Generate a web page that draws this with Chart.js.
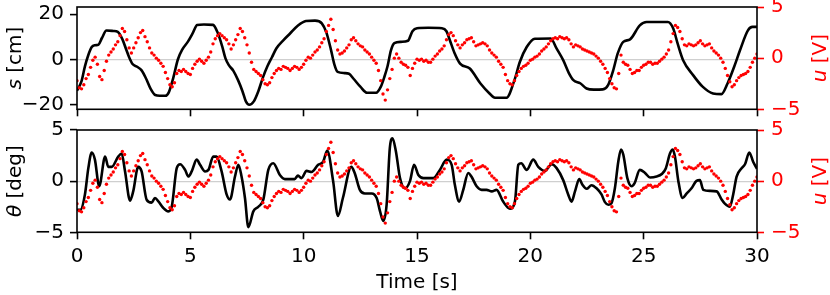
<!DOCTYPE html>
<html>
<head>
<meta charset="utf-8">
<script src="https://cdn.jsdelivr.net/npm/chart.js@4.4.1/dist/chart.umd.min.js"></script>
<style>
  body { margin: 0; background: #fff; }
  #wrap { position: relative; width: 830px; height: 295px; }
  canvas { position: absolute; left: 0; }
</style>
</head>
<body>
<div id="wrap">
  <canvas id="topChart" width="830" height="120" style="top:0px"></canvas>
  <canvas id="bottomChart" width="830" height="175" style="top:120px"></canvas>
</div>
<script>
// control input u [V], sampled every 0.1 s (shared by both panels)
const uVals = [
  -2.2, -2.9, -3.0, -2.6, -2.0, -1.6, -0.9, -0.2, 0.1, -0.6,
  -1.8, -2.1, -1.2, -0.3, 0.3, 0.6, 0.9, 1.3, 1.6, 2.2,
  2.9, 2.6, 1.8, 1.0, 0.5, 1.0, 1.5, 2.0, 2.5, 2.7,
  2.1, 1.6, 1.0, 0.5, 0.3, 0.0, -0.2, -0.5, -0.8, -1.4,
  -2.0, -2.6, -2.8, -2.4, -1.5, -1.2, -1.3, -1.1, -1.3, -1.5,
  -1.6, -1.0, -0.6, -0.3, -0.1, -0.3, -0.5, -0.2, 0.1, 0.6,
  1.4, 1.9, 2.2, 2.4, 2.2, 2.0, 1.8, 1.4, 0.9, 1.3,
  1.8, 2.3, 2.9, 2.6, 2.0, 1.3, 0.5, -0.4, -1.1, -1.3,
  -1.5, -1.7, -2.1, -2.5, -2.6, -2.4, -1.9, -1.5, -1.2, -1.0,
  -1.1, -0.8, -0.9, -1.0, -1.2, -1.0, -0.8, -0.9, -1.1, -0.9,
  -0.6, -0.2, 0.1, 0.0, 0.3, 0.6, 0.8, 1.1, 1.5, 1.9,
  2.6, 3.2, 3.8, 2.8, 1.7, 0.8, 0.4, 0.5, 0.7, 1.0,
  1.3, 1.8, 2.0, 1.7, 1.4, 1.2, 1.1, 0.8, 0.6, 0.4,
  0.1, -0.2, -0.5, -1.2, -2.2, -3.5, -4.1, -3.1, -2.0, -1.1,
  0.0, 0.4, 0.0, -0.4, -0.6, -0.7, -0.9, -1.7, -1.0, -0.5,
  -0.1, -0.2, -0.1, -0.3, -0.2, -0.4, -0.4, -0.1, 0.2, 0.4,
  0.7, 0.9, 1.2, 1.8, 2.3, 2.5, 2.2, 1.7, 1.3, 1.0,
  1.3, 1.5, 1.8, 1.9, 2.0, 1.6, 1.2, 1.3, 1.4, 1.5,
  1.4, 1.2, 0.8, 0.5, 0.3, 0.1, -0.3, -0.6, -0.9, -1.6,
  -2.2, -2.5, -2.6, -2.2, -1.7, -1.3, -1.0, -0.8, -0.7, -0.5,
  -0.2, -0.1, 0.1, 0.2, 0.4, 0.7, 0.9, 1.1, 1.4, 1.7,
  1.9, 2.0, 1.9, 2.1, 2.0, 1.9, 2.0, 1.8, 1.4, 1.1,
  1.3, 1.2, 1.1, 0.9, 0.8, 0.7, 0.6, 0.5, 0.4, 0.2,
  0.0, -0.3, -0.6, -1.0, -1.4, -2.0, -2.5, -2.9, -3.0, -1.5,
  0.3, -0.4, -0.6, -0.7, -1.1, -1.5, -1.4, -1.2, -1.2, -0.9,
  -0.7, -0.6, -0.4, -0.4, -0.6, -0.5, -0.5, -0.3, -0.1, 0.1,
  0.4, 0.8, 1.6, 2.4, 3.2, 3.0, 2.6, 1.9, 1.3, 1.2,
  1.4, 1.3, 1.2, 1.3, 1.5, 1.7, 1.4, 1.2, 1.3, 1.4,
  1.0, 0.7, 0.5, 0.3, 0.0, -0.4, -1.0, -1.7, -2.3, -2.8,
  -2.6, -2.2, -1.9, -1.7, -1.6, -1.5, -1.3, -0.9, -0.4, 0.0,
  0.4
];
const uTime = uVals.map((_, i) => i / 10);

// cart position s [cm]
const sTime = [0.00, 0.20, 0.35, 0.50, 0.65, 0.80, 0.95, 1.10, 1.30, 1.60, 1.80, 2.00, 2.15, 2.30, 2.45,
  2.65, 2.85, 3.05, 3.25, 3.45, 3.65, 3.90, 4.05, 4.25, 4.45, 4.65, 4.90, 5.10, 5.30, 5.60, 6.00,
  6.20, 6.40, 6.55, 6.70, 6.90, 7.10, 7.30, 7.45, 7.60, 7.80, 8.00, 8.20, 8.40, 8.60, 8.80, 9.10,
  9.40, 9.75, 10.10, 10.50, 10.80, 11.00, 11.20, 11.35, 11.50, 11.80, 12.00, 12.20, 12.50, 12.80,
  13.20, 13.40, 13.55, 13.70, 13.85, 14.00, 14.30, 14.60, 14.80, 15.00, 15.50, 16.10, 16.30, 16.45,
  16.65, 16.90, 17.33, 17.80, 18.20, 18.44, 18.95, 19.30, 19.54, 19.84, 20.20, 20.90, 21.15, 21.45,
  21.70, 21.90, 22.20, 22.48, 22.80, 23.20, 23.43, 23.65, 23.86, 24.10, 24.40, 24.83, 25.13, 26.07,
  26.30, 26.50, 26.74, 27.18, 27.60, 28.06, 28.43, 28.70, 29.00, 29.25, 29.60, 29.80, 30.00];
const sVals = [-13.8, -9.5, -3, 2, 5.5, 6.3, 6.6, 9.5, 12.8, 12.6, 12.2, 9, 5, 1, -2,
  -3.2, -4.8, -8.5, -13, -15.7, -16, -16, -14.5, -8, 0, 4.5, 8, 11.5, 15.2, 15.5, 15.3,
  12, 6, 0.5, -2.5, -5, -9, -14, -18.5, -20, -18.5, -14, -8, -3, 1, 5, 8.5,
  11.5, 15, 17, 17.2, 16, 12, 4.5, -2, -5.5, -6, -6.3, -8.5, -12, -14.7,
  -14.7, -12.1, -8, -3, 4, 7.2, 7.8, 8.3, 12.5, 13.8, 14, 13.8, 12.5, 8.5,
  3, -1.8, -4, -10.6, -15, -16.9, -16.9, -9.1, -1, 5.5, 9.2, 9.3, 5, -0.3,
  -6, -9.1, -10.5, -12.8, -13.3, -13.2, -11.3, -5, 2.8, 7.8, 8.9, 15.1, 16.6, 16.6,
  13.8, 7, -0.3, -6.9, -12, -15, -15.3, -10.6, -3, 4.1, 12.9, 14.4, 14.4];

// pendulum angle theta [deg]
const thTime = [0.00, 0.15, 0.35, 0.50, 0.65, 0.79, 0.98, 1.24, 1.38, 1.53, 1.82, 1.97, 2.12, 2.34, 2.48,
  2.70, 2.85, 3.07, 3.29, 3.44, 3.60, 3.80, 4.03, 4.18, 4.40, 4.55, 4.77, 4.91, 5.06, 5.28, 5.43,
  5.65, 5.80, 6.01, 6.16, 6.38, 6.60, 6.75, 6.97, 7.12, 7.26, 7.41, 7.56, 7.78, 8.00, 8.22, 8.44,
  8.66, 8.95, 9.17, 9.60, 9.75, 9.90, 10.13, 10.35, 10.64, 10.86, 11.04, 11.30, 11.51, 11.73, 12.10,
  12.25, 12.48, 12.70, 13.00, 13.22, 13.37, 13.51, 13.66, 13.80, 13.92, 14.07, 14.25, 14.47, 14.69,
  14.87, 15.06, 15.28, 15.72, 16.01, 16.31, 16.53, 16.67, 16.86, 17.04, 17.26, 17.40, 17.63, 17.85,
  18.07, 18.30, 18.51, 18.80, 19.10, 19.32, 19.47, 19.60, 19.84, 20.13, 20.35, 20.64, 20.94, 21.16,
  21.45, 21.67, 21.82, 21.97, 22.16, 22.30, 22.48, 22.70, 22.92, 23.14, 23.29, 23.44, 23.58, 23.73,
  23.88, 24.00, 24.10, 24.28, 24.47, 24.60, 24.83, 25.06, 25.28, 25.57, 25.80, 25.98, 26.16, 26.28,
  26.38, 26.53, 26.72, 26.90, 27.11, 27.33, 27.48, 27.63, 27.92, 28.22, 28.44, 28.58, 28.80, 28.95,
  29.10, 29.32, 29.47, 29.66, 29.83, 30.00];
const thVals = [-2.8, -2.8, -1.3, 1.27, 2.8, 2.1, -0.5, 2.4, 1.4, 1.4, 2.4, 2.7, 0.95, -1.9, -1.0,
  1.4, 0.95, -1.8, -2.1, -1.65, -2.0, -2.6, -2.95, -2.5, 1.27, 1.65, 1.1, 0.45, 0.95, 2.1, 1.6,
  0.95, 1.1, 2.4, 2.4, 0.95, -1.3, -1.8, 0.45, 1.6, 0.45, -1.65, -4.5, -2.95, -2.5, -1.8, 1.1,
  1.75, 0.6, 0.2, 0.2, 0.55, 0.3, 1.0, 0.9, 1.6, 1.9, 3.0, 0.0, -3.4, -1.65, 1.4,
  0.8, -0.85, -1.2, -1.2, -1.65, -2.95, -3.9, -2.3, 3.2, 4.2, 2.9, 0.3, -0.7, 0.0,
  1.6, 0.6, 0.3, 0.3, 1.1, 2.1, 1.6, -0.36, -2.0, -0.85, 0.8, 0.45, -0.5, -0.85,
  -0.85, -1.0, -0.85, -2.0, -2.7, -2.0, 1.6, 1.75, 1.1, 2.1, 1.4, 1.0, 1.65, 1.27,
  0.1, -1.3, -2.0, -1.0, 0.2, -0.36, -0.75, -0.4, -0.7, -1.3, -2.05, -2.3, -2.15, -0.7,
  1.9, 3.1, 2.6, 0.3, -0.5, -0.2, 1.1, 0.8, 0.36, 0.45, 0.7, 1.27, 2.7, 3.1,
  2.4, 0.0, -1.65, -1.2, -0.7, 0.03, 0.1, -0.85, -0.95, -1.0, -1.8, -2.2, -2.5, -1.3,
  0.45, 1.27, 1.65, 2.8, 1.9, 1.2];

const timeTicks = [0, 5, 10, 15, 20, 25, 30];
const sTicks = [-20, 0, 20];
const thTicks = [-5, 0, 5];
const uTicks = [-5, 0, 5];

const FONT = 'DejaVu Sans';
const fmt = v => (v < 0 ? '\u2212' + Math.abs(v) : String(v));
const pts = (xs, ys) => xs.map((x, i) => ({ x: x, y: ys[i] }));
const setTicks = list => scale => { scale.ticks = list.map(v => ({ value: v })); };

function drawLabel(ctx, parts, x, y, color) {
  ctx.save();
  ctx.translate(x, y);
  ctx.rotate(-Math.PI / 2);
  ctx.fillStyle = color;
  ctx.textBaseline = 'alphabetic';
  ctx.textAlign = 'left';
  const widths = parts.map(p => { ctx.font = p[1]; return ctx.measureText(p[0]).width; });
  let cx = -widths.reduce((a, b) => a + b, 0) / 2;
  parts.forEach((p, i) => { ctx.font = p[1]; ctx.fillText(p[0], cx, 0); cx += widths[i]; });
  ctx.restore();
}

const framePlugin = {
  id: 'frame',
  afterDatasetsDraw(chart, args, opts) {
    const { ctx, chartArea: a } = chart;
    ctx.save();
    ctx.strokeStyle = '#000';
    ctx.lineWidth = 1.6;
    ctx.strokeRect(a.left, a.top, a.right - a.left, a.bottom - a.top);
    ctx.restore();
    const mid = (a.top + a.bottom) / 2;
    drawLabel(ctx, opts.left, 20.5, mid, '#000');
    drawLabel(ctx, [['u', 'italic 20px ' + FONT], [' [V]', '20px ' + FONT]], 825.5, mid, '#ff0000');
  }
};

function makeChart(id, cfg) {
  return new Chart(document.getElementById(id), {
    type: 'line',
    data: {
      datasets: [{
        data: pts(uTime, uVals),
        yAxisID: 'yR',
        showLine: false,
        pointRadius: 1.7,
        pointBorderWidth: 0,
        pointBackgroundColor: '#ff0000'
      }, {
        data: pts(cfg.lineT, cfg.lineV),
        yAxisID: 'yL',
        borderColor: '#000',
        borderWidth: 2.6,
        pointRadius: 0,
        cubicInterpolationMode: 'monotone'
      }]
    },
    options: {
      responsive: false,
      animation: false,
      events: [],
      layout: { padding: { top: cfg.top, left: 0, right: 0, bottom: 0 } },
      plugins: {
        legend: { display: false },
        tooltip: { enabled: false },
        frame: { left: cfg.label }
      },
      scales: {
        x: {
          type: 'linear',
          min: 0,
          max: 30,
          afterBuildTicks: setTicks(timeTicks),
          afterFit: s => { s.height = cfg.xHeight; s.paddingLeft = 0; s.paddingRight = 0; },
          border: { display: false },
          grid: { drawOnChartArea: false, color: '#000', tickColor: '#000', tickLength: 7, tickWidth: 1.6 },
          ticks: { display: cfg.showX, color: '#000', padding: 5, font: { family: FONT, size: 20 }, maxRotation: 0, callback: fmt },
          title: { display: cfg.showX, text: 'Time [s]', color: '#000', padding: { top: 0, bottom: 0 }, font: { family: FONT, size: 20 } }
        },
        yL: {
          position: 'left',
          min: cfg.min,
          max: cfg.max,
          afterBuildTicks: setTicks(cfg.ticks),
          afterFit: s => { s.width = 77; s.paddingTop = 0; s.paddingBottom = 0; },
          border: { display: false },
          grid: {
            color: c => (c.tick && c.tick.value === 0 ? '#cfcfcf' : 'rgba(0,0,0,0)'),
            lineWidth: 1.2,
            tickColor: '#000',
            tickWidth: 1.6,
            tickLength: 7
          },
          ticks: { color: '#000', padding: 6, font: { family: FONT, size: 20 }, callback: fmt }
        },
        yR: {
          position: 'right',
          min: -5,
          max: 5,
          afterBuildTicks: setTicks(uTicks),
          afterFit: s => { s.width = 73; s.paddingTop = 0; s.paddingBottom = 0; },
          border: { display: false },
          grid: { drawOnChartArea: false, color: '#ff0000', tickColor: '#ff0000', tickWidth: 1.6, tickLength: 7 },
          ticks: { color: '#ff0000', padding: 7, font: { family: FONT, size: 20 }, callback: fmt }
        }
      }
    },
    plugins: [framePlugin]
  });
}

makeChart('topChart', {
  lineT: sTime, lineV: sVals, min: -22, max: 23.2, ticks: sTicks,
  top: 7, xHeight: 10.7, showX: false,
  label: [['s', 'italic 20px ' + FONT], [' [cm]', '20px ' + FONT]]
});
makeChart('bottomChart', {
  lineT: thTime, lineV: thVals, min: -5, max: 5, ticks: thTicks,
  top: 10, xHeight: 62.7, showX: true,
  label: [['\u03b8', 'italic 20px ' + FONT], [' [deg]', '20px ' + FONT]]
});
</script>
</body>
</html>
